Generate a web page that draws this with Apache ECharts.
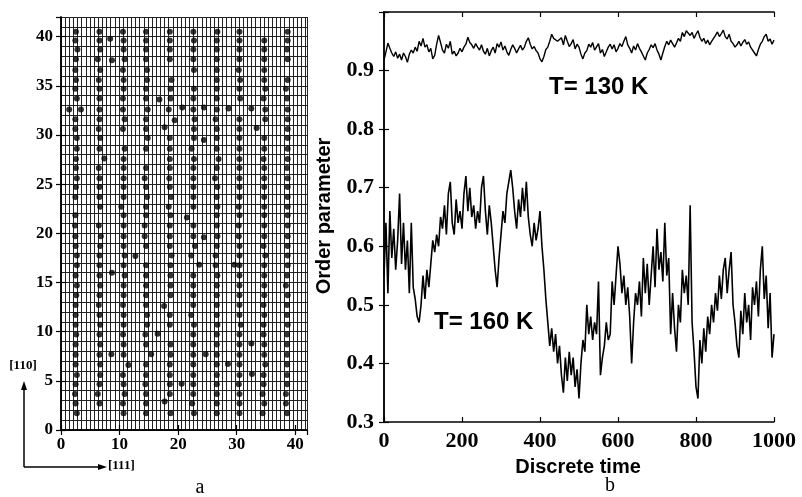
<!DOCTYPE html>
<html><head><meta charset="utf-8">
<script src="https://cdn.jsdelivr.net/npm/echarts@6/dist/echarts.min.js"></script>
<style>html,body{margin:0;padding:0;background:#fff}#c{width:802px;height:497px}</style>
</head><body><div id="c"></div>
<script>
// ---- Panel a: lattice rows ([110] positions) ----
const rows = [1.7,2.7,3.65,4.65,5.6,6.65,7.65,8.7,9.7,10.7,11.7,12.7,13.7,14.7,15.7,16.75,17.75,18.7,19.7,20.8,
  21.85,22.7,23.7,24.7,25.6,26.65,27.55,28.6,29.7,30.6,31.6,32.6,33.7,34.7,35.6,36.6,37.7,38.7,39.6,40.5];
// x ([111]) position of the atom in each row of each column (null = missing)
const col1 = [2.7,2.5,2.4,2.5,2.7,2.5,2.5,2.5,2.6,2.5,2.5,2.5,2.6,2.7,2.5,2.7,2.7,2.5,2.45,2.4,
  2.45,null,2.45,2.55,2.7,2.55,2.55,2.7,2.7,2.45,2.45,null,2.7,2.45,2.55,2.45,2.55,2.8,2.45,2.55];
const col2 = [null,6.57,6.29,6.57,6.69,6.69,6.57,6.69,6.57,6.69,6.57,6.46,6.57,6.69,6.57,6.57,6.57,6.69,6.8,6.46,
  null,6.69,6.57,6.57,6.57,6.46,null,6.57,6.69,6.46,6.57,6.57,6.57,6.57,6.46,6.69,6.29,6.69,6.57,6.57];
const col3 = [10.69,10.58,10.86,10.69,10.58,null,10.69,10.69,10.6,10.69,10.69,10.6,10.69,10.69,10.86,10.69,10.86,10.69,10.69,10.69,
  10.69,10.3,10.69,10.69,10.69,10.69,10.69,10.86,null,10.58,10.86,10.58,10.58,10.69,10.69,10.58,10.86,10.69,10.69,10.58];
const col4 = [14.52,14.52,14.52,14.41,14.52,14.52,null,14.52,14.41,14.69,14.69,14.52,14.52,14.52,14.52,14.52,null,14.52,14.29,14.29,
  14.52,14.52,14.69,14.52,14.29,14.52,null,14.52,14.8,14.52,14.52,14.8,14.52,14.52,14.69,14.69,14.52,14.52,14.52,14.52];
const col5 = [18.7,null,18.58,18.58,18.58,18.58,18.7,18.7,null,18.58,18.58,null,18.7,18.7,18.7,18.7,18.87,18.58,18.58,18.58,
  18.7,18.4,18.8,18.58,18.5,18.58,18.58,18.58,18.58,null,null,18.4,18.7,18.7,18.87,null,18.58,18.58,18.58,18.58];
const col6 = [22.7,22.41,22.58,22.58,22.58,22.58,22.58,22.58,22.58,22.7,22.24,22.58,22.58,22.58,22.58,null,22.24,22.87,22.6,22.6,
  null,22.6,22.6,22.6,22.6,22.6,22.7,22.3,22.7,22.7,22.8,22.6,22.6,22.7,null,22.7,22.6,22.6,22.7,22.6];
const col7 = [26.6,26.6,26.6,26.6,26.6,26.6,26.6,26.6,26.6,26.7,26.6,26.6,26.6,26.6,26.7,26.4,26.4,26.6,26.7,26.6,
  26.6,26.7,26.6,26.7,26.3,26.6,26.9,26.6,26.6,26.6,26.4,26.6,26.6,26.6,26.6,26.6,26.6,26.6,26.6,26.7];
const col8 = [30.47,30.47,30.47,30.36,30.47,30.47,30.47,30.47,30.47,30.7,30.47,30.47,30.47,30.47,30.47,30.47,30.47,30.47,30.36,30.36,
  30.47,30.36,30.47,30.47,30.47,30.47,30.47,30.47,30.47,30.47,30.47,null,30.58,30.47,30.58,30.36,30.47,30.47,30.47,30.47];
const col9 = [34.42,34.7,34.42,34.59,34.59,34.87,34.7,34.7,34.59,34.59,34.7,34.59,34.7,34.7,34.7,34.7,34.87,34.59,34.7,34.7,
  34.7,34.7,34.7,34.7,34.7,34.7,34.59,34.7,34.7,null,34.87,34.87,34.59,34.87,34.7,34.7,34.7,34.7,34.7,null];
const col10 = [38.6,38.4,38.4,38.6,38.6,38.6,38.6,38.6,38.6,38.7,38.6,38.6,38.7,38.4,38.6,38.7,38.7,38.7,38.7,38.7,
  38.7,38.7,38.7,38.7,38.7,38.6,38.7,38.7,38.7,38.7,38.7,38.7,38.6,38.4,38.7,null,38.7,38.6,38.7,38.7];
// displaced atoms [x, y]
const strays = [[1.4,32.6],[3.4,32.6],[7.4,27.6],[8.4,39.8],[8.7,37.6],[8.6,7.7],[8.7,16.0],[12.7,17.7],[11.5,6.6],
  [15.4,7.7],[16.8,33.6],[17.7,30.8],[19.4,31.5],[20.7,32.8],[21.5,21.6],[17.6,12.6],[16.5,9.8],[17.7,2.9],[20.6,4.7],
  [24.4,32.8],[24.4,29.5],[24.4,19.6],[23.6,16.8],[24.7,7.7],[28.5,6.7],[29.6,16.8],[32.5,8.8],[32.6,5.7],
  [28.6,32.7],[32.5,32.7],[33.4,30.7]];
const xTicksA = [0,10,20,30,40];
const yTicksA = [0,5,10,15,20,25,30,35,40];

// ---- Panel b: order parameter vs discrete time (sampled every 5 steps) ----
const timeStep = 5;
const op130 = [
0.918,0.932,0.947,0.938,0.930,0.924,0.932,0.921,0.928,0.918,
0.930,0.924,0.914,0.928,0.935,0.930,0.940,0.933,0.950,0.942,
0.955,0.940,0.944,0.932,0.938,0.920,0.926,0.945,0.960,0.948,
0.935,0.930,0.945,0.938,0.950,0.928,0.933,0.925,0.930,0.938,
0.932,0.940,0.945,0.957,0.948,0.944,0.938,0.946,0.940,0.935,
0.944,0.933,0.928,0.938,0.925,0.934,0.940,0.930,0.946,0.940,
0.949,0.935,0.942,0.932,0.926,0.936,0.944,0.938,0.930,0.937,
0.943,0.935,0.940,0.950,0.956,0.945,0.937,0.941,0.934,0.930,
0.920,0.915,0.924,0.936,0.940,0.950,0.962,0.955,0.958,0.950,
0.947,0.956,0.944,0.960,0.950,0.941,0.946,0.953,0.937,0.945,
0.940,0.928,0.920,0.930,0.934,0.945,0.940,0.948,0.935,0.938,
0.946,0.930,0.936,0.924,0.932,0.940,0.945,0.937,0.944,0.932,
0.938,0.946,0.941,0.950,0.958,0.944,0.938,0.930,0.942,0.935,
0.946,0.938,0.932,0.925,0.918,0.930,0.936,0.944,0.939,0.946,
0.935,0.928,0.918,0.930,0.941,0.950,0.944,0.952,0.946,0.940,
0.947,0.955,0.950,0.965,0.958,0.968,0.970,0.960,0.965,0.955,
0.962,0.968,0.957,0.950,0.955,0.946,0.952,0.944,0.950,0.955,
0.960,0.966,0.958,0.963,0.969,0.958,0.954,0.962,0.950,0.946,
0.940,0.944,0.950,0.942,0.948,0.953,0.945,0.949,0.940,0.937,
0.930,0.925,0.936,0.945,0.950,0.958,0.962,0.950,0.954,0.945,0.952];
const op160 = [
0.55,0.64,0.52,0.66,0.58,0.63,0.56,0.61,0.69,0.57,
0.64,0.56,0.61,0.52,0.64,0.53,0.51,0.48,0.47,0.50,
0.55,0.51,0.56,0.53,0.57,0.61,0.59,0.62,0.60,0.65,
0.63,0.67,0.62,0.69,0.71,0.64,0.62,0.68,0.64,0.66,
0.63,0.69,0.72,0.66,0.70,0.65,0.67,0.63,0.66,0.64,
0.70,0.72,0.66,0.62,0.67,0.64,0.60,0.56,0.53,0.58,
0.62,0.66,0.64,0.69,0.71,0.73,0.70,0.66,0.63,0.68,
0.65,0.70,0.66,0.71,0.65,0.62,0.60,0.64,0.61,0.63,
0.66,0.60,0.56,0.51,0.47,0.43,0.46,0.42,0.45,0.40,
0.43,0.38,0.35,0.41,0.37,0.42,0.38,0.41,0.36,0.39,
0.34,0.40,0.44,0.42,0.50,0.45,0.48,0.44,0.47,0.45,
0.54,0.38,0.41,0.43,0.47,0.44,0.45,0.54,0.50,0.55,
0.60,0.57,0.52,0.55,0.50,0.53,0.48,0.40,0.47,0.52,
0.50,0.54,0.48,0.58,0.52,0.57,0.50,0.55,0.60,0.53,
0.63,0.56,0.59,0.54,0.64,0.55,0.58,0.45,0.52,0.46,
0.42,0.50,0.47,0.56,0.52,0.55,0.50,0.67,0.47,0.42,
0.36,0.34,0.44,0.40,0.46,0.42,0.48,0.45,0.50,0.47,
0.52,0.49,0.55,0.51,0.56,0.58,0.52,0.56,0.59,0.50,
0.47,0.43,0.41,0.49,0.45,0.52,0.47,0.50,0.44,0.53,
0.50,0.54,0.48,0.56,0.60,0.51,0.55,0.46,0.52,0.41,0.45];
const xTicksB = [0,200,400,600,800,1000];
const yTicksB = [0.3,0.4,0.5,0.6,0.7,0.8,0.9];

// ---- build data ----
const cols = [col1,col2,col3,col4,col5,col6,col7,col8,col9,col10];
const atoms = [];
cols.forEach(c => c.forEach((x, i) => { if (x !== null) atoms.push([x, rows[i]]); }));
strays.forEach(p => atoms.push(p));
const s130 = op130.map((v, i) => [i * timeStep, v]);
const s160 = op160.map((v, i) => [i * timeStep, v]);

const serifB = {fontFamily:'Liberation Serif', fontWeight:'bold', color:'#000'};
const axLine = {show:true, lineStyle:{color:'#000', width:1.5}};
const tickIn = {show:true, inside:true, length:5, lineStyle:{color:'#000', width:1.2}};

const chart = echarts.init(document.getElementById('c'), null, {renderer:'canvas'});
chart.setOption({
  animation:false,
  backgroundColor:'#fff',
  grid:[
    {left:61, top:17, width:246, height:413},
    {left:384, top:12, width:390, height:410}
  ],
  xAxis:[
    {gridIndex:0, type:'value', min:0, max:42, interval:10, position:'bottom', axisLine:axLine, axisTick:tickIn,
      splitLine:{show:false}, axisLabel:Object.assign({fontSize:17, margin:6, showMaxLabel:false,
      formatter:v => xTicksA.includes(v) ? String(v) : ''}, serifB)},
    {gridIndex:0, type:'value', min:0, max:42, interval:10, position:'top', axisLine:axLine, axisTick:tickIn,
      splitLine:{show:false}, axisLabel:{show:false}},
    {gridIndex:0, type:'value', min:0, max:42, interval:0.70710678, position:'bottom', axisLine:{show:false},
      axisTick:{show:false}, axisLabel:{show:false}, splitLine:{show:true, lineStyle:{color:'#222', width:1}}},
    {gridIndex:1, type:'value', min:0, max:1000, interval:200, position:'bottom', axisLine:axLine, axisTick:tickIn,
      splitLine:{show:false}, axisLabel:Object.assign({fontSize:22, margin:8,
      formatter:v => xTicksB.includes(v) ? String(v) : ''}, serifB)},
    {gridIndex:1, type:'value', min:0, max:1000, interval:200, position:'top', axisLine:axLine, axisTick:tickIn,
      splitLine:{show:false}, axisLabel:{show:false}}
  ],
  yAxis:[
    {gridIndex:0, type:'value', min:0, max:42, interval:5, position:'left', axisLine:axLine, axisTick:tickIn,
      splitLine:{show:false}, axisLabel:Object.assign({fontSize:17, margin:8, showMaxLabel:false,
      formatter:v => yTicksA.includes(v) ? String(v) : ''}, serifB)},
    {gridIndex:0, type:'value', min:0, max:42, interval:5, position:'right', axisLine:axLine, axisTick:tickIn,
      splitLine:{show:false}, axisLabel:{show:false}},
    {gridIndex:0, type:'value', min:0, max:42, interval:1, position:'left', axisLine:{show:false},
      axisTick:{show:false}, axisLabel:{show:false}, splitLine:{show:true, lineStyle:{color:'#222', width:1}}},
    {gridIndex:1, type:'value', min:0.3, max:1.0, interval:0.1, position:'left', axisLine:axLine, axisTick:tickIn,
      splitLine:{show:false}, axisLabel:Object.assign({fontSize:22, margin:10,
      formatter:v => { const r = Math.round(v*10)/10; return yTicksB.includes(r) ? r.toFixed(1) : ''; }}, serifB)},
    {gridIndex:1, type:'value', min:0.3, max:1.0, interval:0.1, position:'right', axisLine:axLine, axisTick:tickIn,
      splitLine:{show:false}, axisLabel:{show:false}}
  ],
  series:[
    {type:'scatter', xAxisIndex:0, yAxisIndex:0, data:atoms, symbol:'circle', symbolSize:6,
      itemStyle:{color:'#000'}, z:5},
    {type:'line', xAxisIndex:3, yAxisIndex:3, data:s130, showSymbol:false, symbol:'none',
      lineStyle:{color:'#000', width:1.4}},
    {type:'line', xAxisIndex:3, yAxisIndex:3, data:s160, showSymbol:false, symbol:'none',
      lineStyle:{color:'#000', width:1.6}}
  ],
  graphic:[
    {type:'text', x:324, y:216, rotation:Math.PI/2, style:{text:'Order parameter', font:'bold 20px "Liberation Sans"',
      fill:'#000', textAlign:'center', textVerticalAlign:'middle'}},
    {type:'text', x:578, y:467, style:{text:'Discrete time', font:'bold 20px "Liberation Sans"',
      fill:'#000', textAlign:'center', textVerticalAlign:'middle'}},
    {type:'text', x:549, y:87, style:{text:'T= 130 K', font:'bold 24px "Liberation Sans"',
      fill:'#000', textAlign:'left', textVerticalAlign:'middle'}},
    {type:'text', x:434, y:322, style:{text:'T= 160 K', font:'bold 24px "Liberation Sans"',
      fill:'#000', textAlign:'left', textVerticalAlign:'middle'}},
    {type:'text', x:200, y:488, style:{text:'a', font:'20px "Liberation Serif"',
      fill:'#000', textAlign:'center', textVerticalAlign:'middle'}},
    {type:'text', x:610, y:486, style:{text:'b', font:'20px "Liberation Serif"',
      fill:'#000', textAlign:'center', textVerticalAlign:'middle'}},
    {type:'text', x:23, y:366, style:{text:'[110]', font:'bold 13px "Liberation Serif"',
      fill:'#000', textAlign:'center', textVerticalAlign:'middle'}},
    {type:'text', x:108, y:466, style:{text:'[111]', font:'bold 13px "Liberation Serif"',
      fill:'#000', textAlign:'left', textVerticalAlign:'middle'}},
    {type:'line', shape:{x1:24, y1:467, x2:24, y2:388}, style:{stroke:'#000', lineWidth:1.5}},
    {type:'polygon', shape:{points:[[24,381],[21,390],[27,390]]}, style:{fill:'#000'}},
    {type:'line', shape:{x1:24, y1:467, x2:100, y2:467}, style:{stroke:'#000', lineWidth:1.5}},
    {type:'polygon', shape:{points:[[107,467],[98,464],[98,470]]}, style:{fill:'#000'}}
  ]
});
</script></body></html>
